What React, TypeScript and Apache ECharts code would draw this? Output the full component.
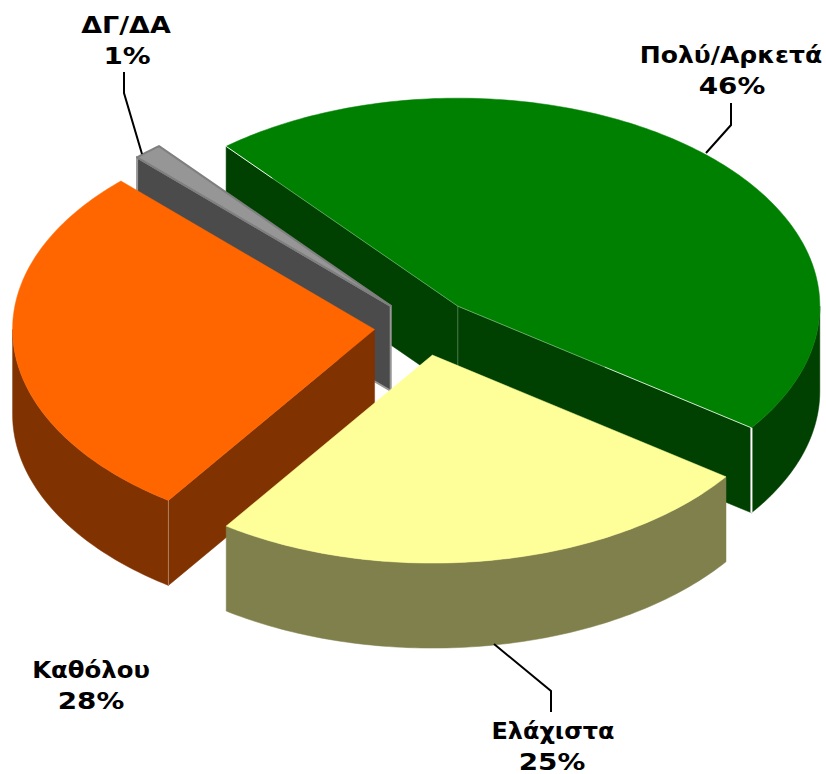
import React, { useEffect, useRef } from "react";
import * as echarts from "echarts";

const categories = ["Πολύ/Αρκετά", "Ελάχιστα", "Καθόλου", "ΔΓ/ΔΑ"];
const values = [46, 24.7, 28, 1.3];
const topColors = ["#008000", "#FFFF99", "#FF6600", "#969696"];
const sideColors = ["#004000", "#80804D", "#803300", "#4B4B4B"];
const paintOrder = [0, 3, 2, 1];

const START_ANGLE = 320.2;
const CX = 424;
const CY = 327;
const RX = 362;
const RY = 208;
const DEPTH = 85;
const EXPLODE = 0.137;

const total = values.reduce((a, b) => a + b, 0);
const starts: number[] = [];
values.reduce((acc, v, i) => {
  starts[i] = acc;
  return acc + (v / total) * 360;
}, START_ANGLE);

const rad = (d: number) => (d * Math.PI) / 180;
const pt = (c: number[], a: number, dy = 0) => [
  c[0] + RX * Math.sin(rad(a)),
  c[1] - RY * Math.cos(rad(a)) + dy,
];

function renderSlice(_: any, api: any) {
  const idx = api.value(2);
  const value = api.value(0);
  const a0 = api.value(1);
  const a1 = a0 + (value / total) * 360;
  const mid = (a0 + a1) / 2;
  const c = [CX + EXPLODE * RX * Math.sin(rad(mid)), CY - EXPLODE * RY * Math.cos(rad(mid))];
  const side = sideColors[idx];
  const top = topColors[idx];
  const isGray = idx === 3;
  const children: any[] = [];
  const sideStyle = isGray
    ? { fill: side, stroke: "#969696", lineWidth: 2 }
    : { fill: side, stroke: side, lineWidth: 0.5 };

  const face = (a: number) => ({
    type: "polygon",
    shape: { points: [c, pt(c, a), pt(c, a, DEPTH), [c[0], c[1] + DEPTH]] },
    style: sideStyle,
  });
  if (Math.sin(rad(a0)) < 0) children.push(face(a0));
  if (Math.sin(rad(a1)) > 0) children.push(face(a1));

  // outer wall: only the front half of the ellipse (90..270 clockwise from top)
  for (const shift of [0, 360]) {
    const from = Math.max(a0, 90 + shift);
    const to = Math.min(a1, 270 + shift);
    if (to > from) {
      const upper: number[][] = [];
      const lower: number[][] = [];
      for (let a = from; a < to; a += 1) {
        upper.push(pt(c, a));
        lower.push(pt(c, a, DEPTH));
      }
      upper.push(pt(c, to));
      lower.push(pt(c, to, DEPTH));
      children.push({
        type: "polygon",
        shape: { points: upper.concat(lower.reverse()) },
        style: { fill: side, stroke: side, lineWidth: 0.5 },
      });
    }
  }

  const rim: number[][] = [c];
  for (let a = a0; a < a1; a += 1) rim.push(pt(c, a));
  rim.push(pt(c, a1));
  children.push({
    type: "polygon",
    shape: { points: rim },
    style: isGray
      ? { fill: top, stroke: "#7F7F7F", lineWidth: 2, lineJoin: "round" }
      : { fill: top, stroke: top, lineWidth: 0.5 },
  });

  const line = (p: number[], q: number[], alpha: number, w = 1) => ({
    type: "line",
    shape: { x1: p[0], y1: p[1], x2: q[0], y2: q[1] },
    style: { stroke: `rgba(255,255,255,${alpha})`, lineWidth: w },
  });
  const along = (p: number[], q: number[], f: number) => [
    p[0] + (q[0] - p[0]) * f,
    p[1] + (q[1] - p[1]) * f,
  ];

  if (idx === 0) {
    const endA = pt(c, a1);
    const startA = pt(c, a0);
    children.push(line(c, along(c, endA, 0.5), 0.35));
    children.push(line(along(c, endA, 0.5), endA, 0.8));
    children.push(line(c, along(c, startA, 0.8), 0.3));
    children.push(line(along(c, startA, 0.8), startA, 0.95));
    children.push(line([c[0], c[1]], [c[0], c[1] + DEPTH], 0.25));
    children.push(line(endA, pt(c, a1, DEPTH), 1, 2));
  }
  if (idx === 2) {
    children.push(line(pt(c, a0), pt(c, a0, DEPTH), 0.35));
  }
  return { type: "group", children };
}

const labelBoxes = [
  { i: 0, x: 731, y: 55, sx: 1.09, px: 732 },
  { i: 1, x: 553, y: 731, sx: 1.04, px: 552 },
  { i: 2, x: 91, y: 670, sx: 1.06, px: 91 },
  { i: 3, x: 126, y: 25, sx: 1.17, px: 127 },
];
const LABEL_LINE = 30.5;
const PERCENT_SCALE = 1.21;
const leaders = [
  [[731, 103], [731, 125], [706, 153]],
  [[494, 644], [551, 691], [551, 712]],
  [[124, 72], [124, 93], [142, 154]],
];

const labelStyle = (text: string) => ({
  text,
  fontFamily: "DejaVu Sans",
  fontWeight: "bold",
  fontSize: 23,
  fill: "#000000",
  align: "center",
  verticalAlign: "middle",
});

export default function App() {
  const ref = useRef<HTMLDivElement>(null);
  useEffect(() => {
    const chart = echarts.init(ref.current!, null, { renderer: "svg" });
    chart.setOption({
      animation: false,
      backgroundColor: "#FFFFFF",
      series: [
        {
          type: "custom",
          coordinateSystem: "none",
          silent: true,
          clip: false,
          renderItem: renderSlice,
          data: paintOrder.map((i) => [values[i], starts[i], i]),
        },
      ],
      graphic: [
        ...leaders.map((points) => ({
          type: "polyline",
          z: 10,
          shape: { points },
          style: { stroke: "#000000", lineWidth: 2, fill: "none" },
        })),
        ...labelBoxes.map((b) => ({
          type: "text",
          z: 11,
          x: b.x,
          y: b.y,
          scaleX: b.sx,
          style: labelStyle(categories[b.i]),
        })),
        ...labelBoxes.map((b) => ({
          type: "text",
          z: 11,
          x: b.px,
          y: b.y + LABEL_LINE,
          scaleX: PERCENT_SCALE,
          style: labelStyle(`${Math.round(values[b.i])}%`),
        })),
      ],
    });
    return () => chart.dispose();
  }, []);
  return (
    <div
      ref={ref}
      style={{ position: "fixed", left: 0, top: 0, width: 826, height: 774 }}
    />
  );
}
